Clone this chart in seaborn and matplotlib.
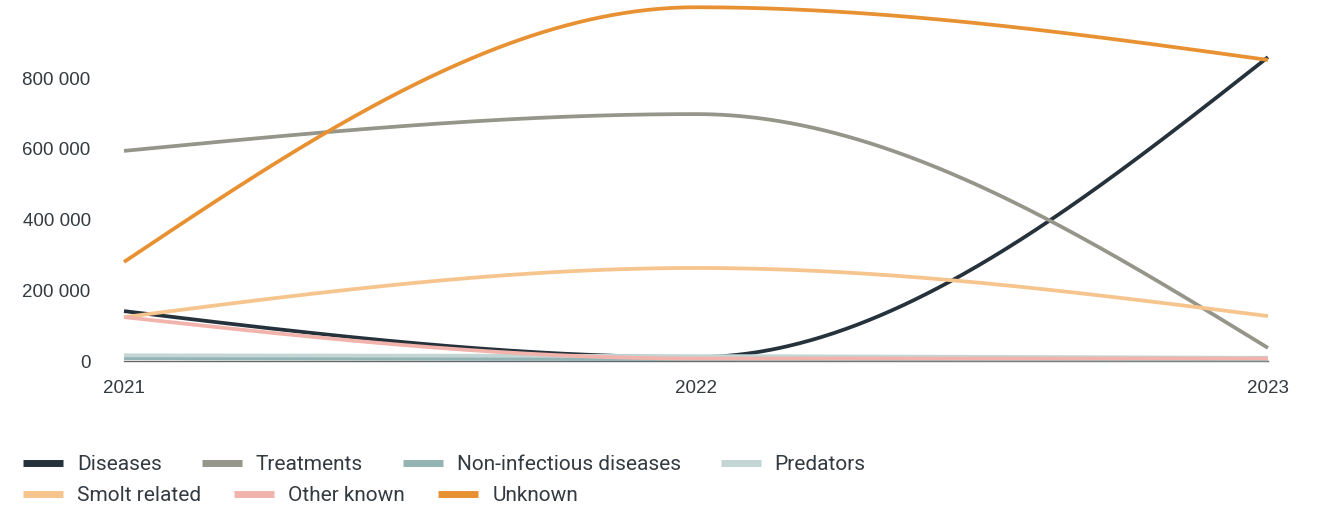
import numpy as np
import pandas as pd
import matplotlib
matplotlib.use("Agg")
import matplotlib.pyplot as plt
from matplotlib.lines import Line2D
from matplotlib.ticker import FuncFormatter
import seaborn as sns

# Yearly counts by cause category
years = [2021, 2022, 2023]
diseases = [141000, 11000, 859000]
treatments = [594000, 698000, 37000]
non_infectious = [8000, 5000, 4000]
predators = [16000, 14000, 9000]
smolt_related = [124000, 263000, 127000]
other_known = [124000, 7000, 7000]
unknown = [280000, 1000000, 851000]

categories = ["Diseases", "Treatments", "Non-infectious diseases", "Predators",
              "Smolt related", "Other known", "Unknown"]
series = [diseases, treatments, non_infectious, predators,
          smolt_related, other_known, unknown]
colors = ["#25323b", "#95958a", "#94b4b4", "#c3d5d5",
          "#f6c48d", "#f1b3ab", "#e89132"]
y_ticks = [0, 200000, 400000, 600000, 800000]


def monotone_curve(x, y, n=200):
    """Monotone cubic (Fritsch-Carlson style) smoothing between points."""
    x = np.asarray(x, float)
    y = np.asarray(y, float)
    m = len(x)
    h = np.diff(x)
    s = np.diff(y) / h
    t = np.zeros(m)
    for i in range(1, m - 1):
        h0, h1 = h[i - 1], h[i]
        s0, s1 = s[i - 1], s[i]
        p = (s0 * h1 + s1 * h0) / (h0 + h1)
        t[i] = (np.sign(s0) + np.sign(s1)) * min(abs(s0), abs(s1), 0.5 * abs(p))
    t[0] = (3 * s[0] - t[1]) / 2
    t[-1] = (3 * s[-1] - t[-2]) / 2
    xs, ys = [], []
    for i in range(m - 1):
        u = np.linspace(0, 1, n)
        dx = h[i]
        h00 = 2 * u**3 - 3 * u**2 + 1
        h10 = u**3 - 2 * u**2 + u
        h01 = -2 * u**3 + 3 * u**2
        h11 = u**3 - u**2
        yy = h00 * y[i] + h10 * dx * t[i] + h01 * y[i + 1] + h11 * dx * t[i + 1]
        xs.append(x[i] + u * dx)
        ys.append(yy)
    return np.concatenate(xs), np.concatenate(ys)


frames = []
for name, vals in zip(categories, series):
    cx, cy = monotone_curve(years, vals)
    frames.append(pd.DataFrame({"year": cx, "value": cy, "cause": name}))
df = pd.concat(frames, ignore_index=True)

sns.set_theme(style="white")
plt.rcParams["font.family"] = ["Liberation Sans", "DejaVu Sans"]

W, H = 1322, 508
fig = plt.figure(figsize=(W / 100, H / 100), dpi=100)
ax = fig.add_axes([124 / W, (H - 361) / H, (1268 - 124) / W, (361 - 7.25) / H])

palette = dict(zip(categories, colors))
sns.lineplot(data=df, x="year", y="value", hue="cause", hue_order=categories,
             palette=palette, linewidth=2.7, sort=False, legend=False,
             estimator=None, ax=ax)
for ln in ax.get_lines():
    ln.set_clip_on(False)
    ln.set_solid_capstyle("butt")

ax.set_xlim(years[0], years[-1])
ax.set_ylim(0, 1000000)
ax.set_xticks(years)
ax.set_xticklabels([str(y) for y in years])
ax.set_yticks(y_ticks)
ax.yaxis.set_major_formatter(FuncFormatter(lambda v, _: f"{int(v):,}".replace(",", " ")))
ax.set_xlabel("")
ax.set_ylabel("")
for side in ["top", "right", "left"]:
    ax.spines[side].set_visible(False)
ax.spines["bottom"].set_color("#666666")
ax.spines["bottom"].set_linewidth(1.0)
ax.spines["bottom"].set_zorder(0)
ax.tick_params(axis="both", length=0, labelsize=13.5, colors="#333a40")
ax.tick_params(axis="y", pad=24)
ax.tick_params(axis="x", pad=14)
ax.grid(False)

# Legend, laid out in two rows
fs = 15
handles = [Line2D([0], [0], color=c, linewidth=5, solid_capstyle="butt") for c in colors]
rows = [(0, 4, 464.5, 1.92), (4, 7, 495.5, 1.6)]
for start, stop, yc, colsp in rows:
    leg = fig.legend(handles[start:stop], categories[start:stop],
                     loc="center left", bbox_to_anchor=(23 / W, (H - yc) / H),
                     ncol=stop - start, frameon=False, borderpad=0, borderaxespad=0,
                     handlelength=1.92, handletextpad=0.67, columnspacing=colsp,
                     prop={"family": ["Roboto", "DejaVu Sans"], "size": fs})
    for txt in leg.get_texts():
        txt.set_color("#333a40")

fig.savefig("out.png", dpi=100)
